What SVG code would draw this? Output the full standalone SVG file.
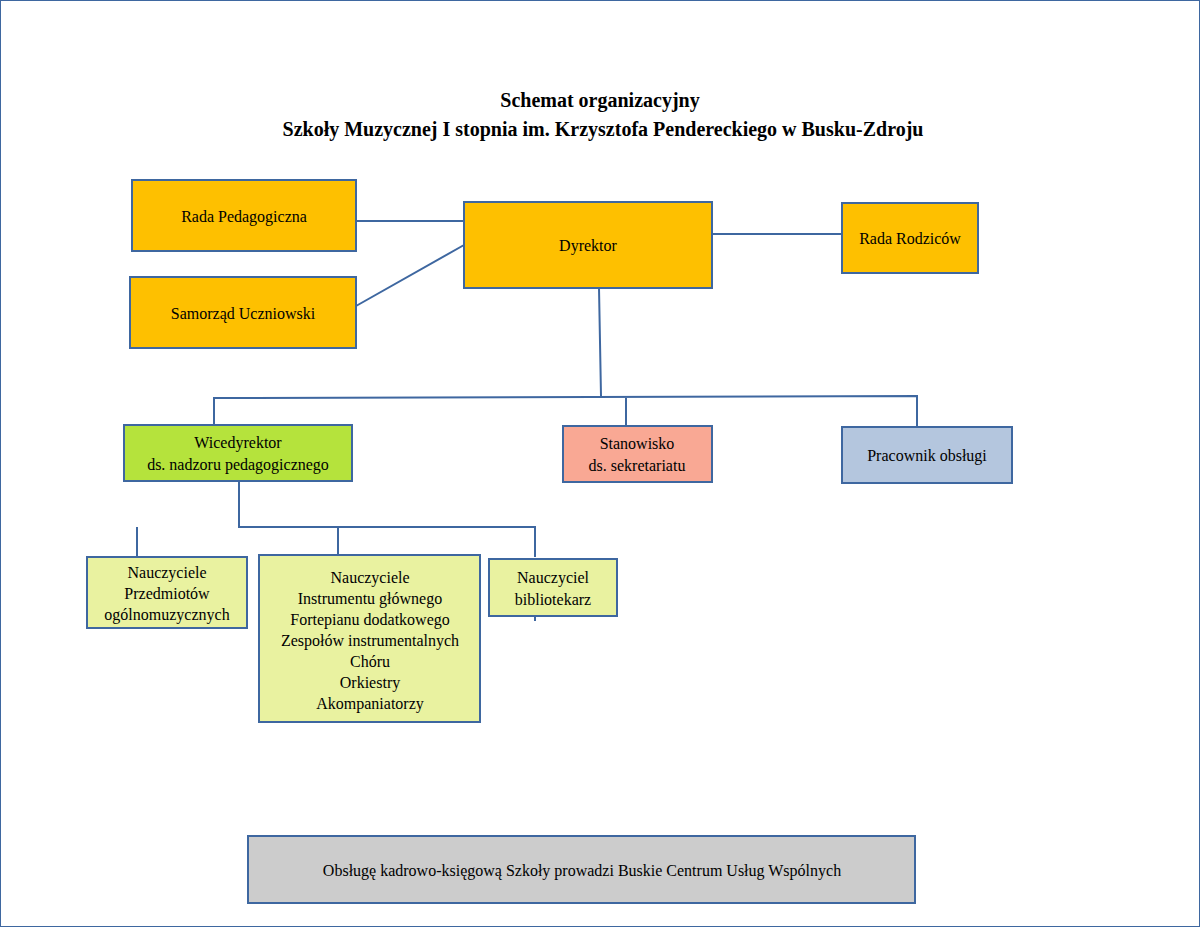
<svg xmlns="http://www.w3.org/2000/svg" width="1200" height="927" viewBox="0 0 1200 927">
<style>
text{font-family:"Liberation Serif",serif;font-size:16px;fill:#000;text-anchor:middle}
.t{font-size:20px;font-weight:bold}
rect{stroke:#3e67a0;stroke-width:2}
.o{fill:#fec000}
.y{fill:#e9f2a0}
#c path{fill:none;stroke:#3e67a0;stroke-width:2}
</style>
<rect width="1200" height="927" fill="#fff" stroke="none"/>
<text class="t" x="600" y="107">Schemat  organizacyjny</text>
<text class="t" x="603" y="136">Szkoły Muzycznej I stopnia im. Krzysztofa Pendereckiego w Busku-Zdroju</text>
<g id="c">
<path d="M356 221H464M356 306L464 245M712 234H842M599 288L601 396M214 424V398L917 396V426M626 397V425M239 481V527H535V557M137 527V557M338 527V555M535 616V621"/>
</g>
<g id="n1"><rect class="o" x="132" y="180" width="224" height="71"/><text x="244" y="222">Rada Pedagogiczna</text></g>
<g id="n2"><rect class="o" x="130" y="277" width="226" height="71"/><text x="243" y="319">Samorząd Uczniowski</text></g>
<g id="n3"><rect class="o" x="464" y="202" width="248" height="86"/><text x="588" y="251">Dyrektor</text></g>
<g id="n4"><rect class="o" x="842" y="203" width="136" height="70"/><text x="910" y="244">Rada Rodziców</text></g>
<g id="n5"><rect fill="#b5e33c" x="124" y="425" width="228" height="56"/><text x="238" y="448">Wicedyrektor</text><text x="238" y="470">ds. nadzoru pedagogicznego</text></g>
<g id="n6"><rect fill="#f9a894" x="563" y="426" width="149" height="56"/><text x="637" y="449">Stanowisko</text><text x="637" y="471">ds. sekretariatu</text></g>
<g id="n7"><rect fill="#b4c6de" x="842" y="427" width="170" height="56"/><text x="927" y="461">Pracownik obsługi</text></g>
<g id="n8"><rect class="y" x="87" y="557" width="160" height="71"/><text x="167" y="578">Nauczyciele</text><text x="167" y="599">Przedmiotów</text><text x="167" y="620">ogólnomuzycznych</text></g>
<g id="n9"><rect class="y" x="259" y="555" width="221" height="167"/><text x="370" y="583">Nauczyciele</text><text x="370" y="604">Instrumentu głównego</text><text x="370" y="625">Fortepianu dodatkowego</text><text x="370" y="646">Zespołów instrumentalnych</text><text x="370" y="667">Chóru</text><text x="370" y="688">Orkiestry</text><text x="370" y="709">Akompaniatorzy</text></g>
<g id="n10"><rect class="y" x="489" y="559" width="128" height="57"/><text x="553" y="583">Nauczyciel</text><text x="553" y="605">bibliotekarz</text></g>
<g id="n11"><rect fill="#cccccc" x="248" y="836" width="667" height="67"/><text x="582" y="876">Obsługę kadrowo-księgową Szkoły prowadzi Buskie Centrum Usług Wspólnych</text></g>
</svg>
